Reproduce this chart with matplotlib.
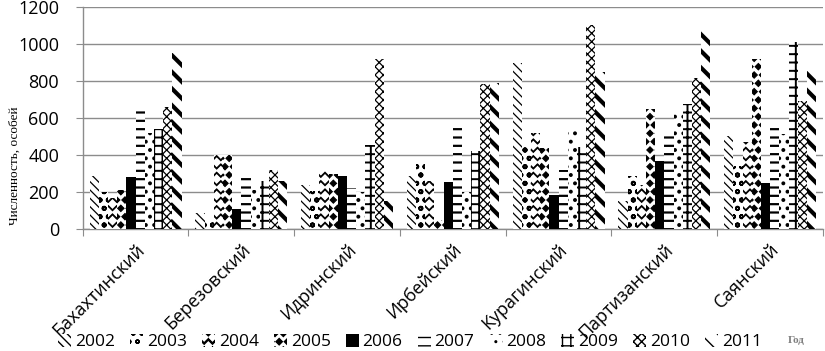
import warnings
warnings.filterwarnings('ignore')
import matplotlib
matplotlib.use("Agg")
import matplotlib.pyplot as plt
import matplotlib.hatch as mhatch
from matplotlib.path import Path
import numpy as np

districts = ["Бахахтинский", "Березовский", "Идринский", "Ирбейский",
             "Курагинский", "Партизанский", "Саянский"]
years = ["2002", "2003", "2004", "2005", "2006", "2007", "2008", "2009", "2010", "2011"]

v2002 = [290, 90, 240, 290, 895, 155, 505]
v2003 = [200, 40, 205, 360, 450, 290, 340]
v2004 = [170, 400, 320, 260, 520, 240, 470]
v2005 = [210, 400, 300, 50, 440, 650, 920]
v2006 = [280, 110, 290, 255, 185, 370, 250]
v2007 = [650, 290, 220, 580, 320, 520, 580]
v2008 = [520, 210, 200, 200, 550, 620, 515]
v2009 = [540, 260, 455, 420, 445, 675, 1010]
v2010 = [660, 320, 920, 785, 1100, 815, 690]
v2011 = [950, 260, 150, 790, 850, 1075, 855]

series = [v2002, v2003, v2004, v2005, v2006, v2007, v2008, v2009, v2010, v2011]


# custom hatch shapes: filled diamonds ('d') and chevrons ('v')
class Diamonds(mhatch.Shapes):
    size = 0.38
    filled = True

    def __init__(self, hatch, density):
        self.num_rows = hatch.count('d') * density
        path = Path.unit_regular_polygon(4)
        self.shape_vertices = path.vertices
        self.shape_codes = path.codes
        super().__init__(hatch, density)


class Chevrons(mhatch.Shapes):
    size = 0.45
    filled = True

    def __init__(self, hatch, density):
        self.num_rows = hatch.count('v') * density
        t = 0.18
        self.shape_vertices = np.array([[-1, 0.5 + t], [0, -0.5 + t], [1, 0.5 + t],
                                        [1, 0.5 - t], [0, -0.5 - t], [-1, 0.5 - t],
                                        [-1, 0.5 + t]])
        codes = np.full(len(self.shape_vertices), Path.LINETO, dtype=Path.code_type)
        codes[0] = Path.MOVETO
        codes[-1] = Path.CLOSEPOLY
        self.shape_codes = codes
        super().__init__(hatch, density)


mhatch._hatch_types.append(Diamonds)
mhatch._hatch_types.append(Chevrons)

hatches = ['\\\\\\\\', 'oo', 'vv', 'dd', '', '--', '..', '++', 'xxxx', '\\\\']
faces = ['white', 'white', 'white', 'white', 'black', 'white', 'white', 'white', 'white', 'white']
hlw = [0.9, 1.3, 0.6, 0.8, 1.0, 1.6, 1.6, 1.4, 0.9, 3.0]

font = ['Open Sans', 'DejaVu Sans']
plt.rcParams['font.family'] = font

fig = plt.figure(figsize=(8.25, 3.51), dpi=100)
ax = fig.add_axes([0.1002, 0.3467, 0.8974, 0.6343])

x = np.arange(len(districts))
n = len(series)
w = 0.087
for i, vals in enumerate(series):
    with plt.rc_context({'hatch.linewidth': hlw[i]}):
        ax.bar(x + (i - (n - 1) / 2) * w, vals, width=w, facecolor=faces[i],
               edgecolor='black', linewidth=0, hatch=hatches[i], label=years[i],
               zorder=3)

ax.set_xlim(-0.5, len(districts) - 0.5)
ax.set_ylim(0, 1200)
ax.set_yticks(np.arange(0, 1201, 200))
ax.yaxis.grid(True, color='#8c8c8c', linewidth=1.0, zorder=0)
ax.set_axisbelow(True)
for s in ['top', 'right']:
    ax.spines[s].set_visible(False)
for s in ['left', 'bottom']:
    ax.spines[s].set_color('#8c8c8c')
    ax.spines[s].set_linewidth(1.0)

ax.set_xticks(np.arange(-0.5, len(districts), 1.0))
ax.set_xticklabels([])
ax.set_xticks(x, minor=True)
ax.set_xticklabels(districts, minor=True, rotation=45, ha='right', va='top',
                   rotation_mode='anchor', fontsize=13)
ax.tick_params(axis='x', which='minor', length=0, pad=8)
ax.tick_params(axis='x', which='major', length=5, color='#8c8c8c', direction='out')
ax.tick_params(axis='y', length=5, color='#8c8c8c', labelsize=13, pad=12)

fig.text(0.018, 0.527, "Численность, особей", rotation=90, ha='center', va='center',
         family='Liberation Serif', fontsize=9.5)

leg = fig.legend(loc='center', bbox_to_anchor=(0.497, 0.025), ncol=10, frameon=False,
                 fontsize=12.5, handlelength=0.75, handleheight=0.75, handletextpad=0.22,
                 columnspacing=0.87, borderpad=0)

fig.text(0.965, 0.031, "Год", ha='center', va='center', family='Liberation Serif',
         fontsize=8, fontweight='bold', color='#7f7f7f')

fig.savefig("out.png", dpi=100)
